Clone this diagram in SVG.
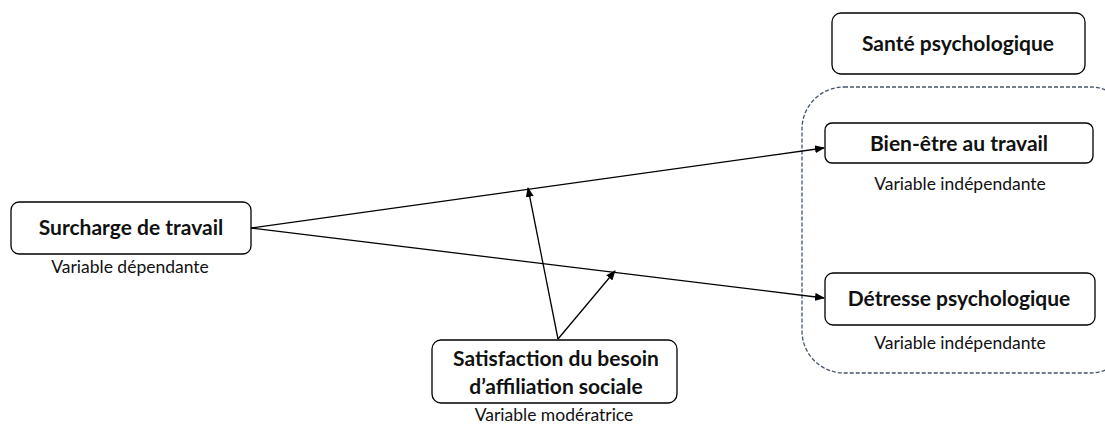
<svg xmlns="http://www.w3.org/2000/svg" width="1105" height="426" viewBox="0 0 1105 426">
<defs>
<marker id="arr" markerWidth="10" markerHeight="8" refX="9" refY="4" orient="auto" markerUnits="userSpaceOnUse">
<path d="M0,0 L10,4 L0,8 Z" fill="#000"/>
</marker>
<style>
.box{fill:#fff;stroke:#000;stroke-width:1.3}
.t{font-family:Lato,"Liberation Sans",sans-serif;font-weight:bold;font-size:21px;fill:#111;text-anchor:middle}
.s{font-family:Lato,"Liberation Sans",sans-serif;font-size:17.5px;fill:#111;text-anchor:middle}
.c{stroke:#000;stroke-width:1.3;fill:none;marker-end:url(#arr)}
</style>
</defs>
<rect width="1105" height="426" fill="#fff"/>
<g id="group-sante">
<rect x="802" y="87" width="330" height="286" rx="42" fill="none" stroke="#44546A" stroke-width="1.3" stroke-dasharray="4,2"/>
</g>
<g id="connectors">
<line class="c" x1="251" y1="228" x2="824" y2="148"/>
<line class="c" x1="251" y1="228" x2="824" y2="298"/>
<line class="c" x1="558" y1="339" x2="528" y2="188"/>
<line class="c" x1="558" y1="339" x2="615" y2="271"/>
</g>
<g id="surcharge">
<rect class="box" x="11" y="202" width="240" height="52" rx="8"/>
<text class="t" x="131" y="235">Surcharge de travail</text>
<text class="s" x="130" y="273">Variable dépendante</text>
</g>
<g id="satisfaction">
<rect class="box" x="432" y="340" width="245" height="63" rx="9"/>
<text class="t" x="556" y="366">Satisfaction du besoin</text>
<text class="t" x="556" y="394">d’affiliation sociale</text>
<text class="s" x="554" y="421">Variable modératrice</text>
</g>
<g id="sante">
<rect class="box" x="832" y="13" width="253" height="61" rx="9"/>
<text class="t" x="958" y="51">Santé psychologique</text>
</g>
<g id="bienetre">
<rect class="box" x="825" y="123" width="268" height="40" rx="7"/>
<text class="t" x="959" y="151">Bien-être au travail</text>
<text class="s" x="960" y="190">Variable indépendante</text>
</g>
<g id="detresse">
<rect class="box" x="825" y="273" width="270" height="52" rx="8"/>
<text class="t" x="959" y="306">Détresse psychologique</text>
<text class="s" x="960" y="349">Variable indépendante</text>
</g>
</svg>
